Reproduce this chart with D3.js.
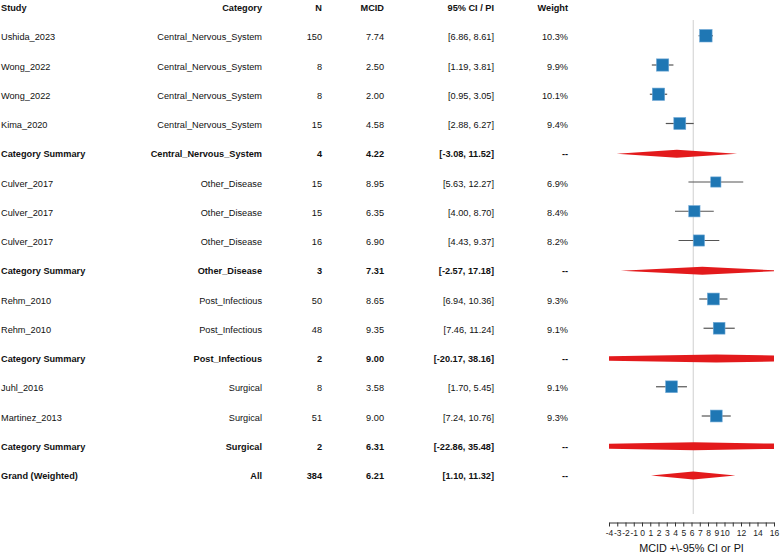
<!DOCTYPE html>
<html>
<head>
<meta charset="utf-8">
<script src="https://cdn.jsdelivr.net/npm/d3@7"></script>
<style>
  body { margin: 0; background: #fff; }
  svg { font-family: "Liberation Sans", Arial, sans-serif; }
  .axis path, .axis line { stroke: #333; }
  .axis text { font-size: 8.5px; fill: #222; }
</style>
</head>
<body>
<svg id="chart" width="782" height="556"></svg>
<script>
// rows of the forest table, top to bottom
var study = ['Ushida_2023', 'Wong_2022', 'Wong_2022', 'Kima_2020', 'Category Summary',
  'Culver_2017', 'Culver_2017', 'Culver_2017', 'Category Summary',
  'Rehm_2010', 'Rehm_2010', 'Category Summary',
  'Juhl_2016', 'Martinez_2013', 'Category Summary', 'Grand (Weighted)'];
var category = ['Central_Nervous_System', 'Central_Nervous_System', 'Central_Nervous_System', 'Central_Nervous_System', 'Central_Nervous_System',
  'Other_Disease', 'Other_Disease', 'Other_Disease', 'Other_Disease',
  'Post_Infectious', 'Post_Infectious', 'Post_Infectious',
  'Surgical', 'Surgical', 'Surgical', 'All'];
var nVals = [150, 8, 8, 15, 4, 15, 15, 16, 3, 50, 48, 2, 8, 51, 2, 384];
var mcid = [7.74, 2.50, 2.00, 4.58, 4.22, 8.95, 6.35, 6.90, 7.31, 8.65, 9.35, 9.00, 3.58, 9.00, 6.31, 6.21];
var lower = [6.86, 1.19, 0.95, 2.88, -3.08, 5.63, 4.00, 4.43, -2.57, 6.94, 7.46, -20.17, 1.70, 7.24, -22.86, 1.10];
var upper = [8.61, 3.81, 3.05, 6.27, 11.52, 12.27, 8.70, 9.37, 17.18, 10.36, 11.24, 38.16, 5.45, 10.76, 35.48, 11.32];
var weight = [10.3, 9.9, 10.1, 9.4, null, 6.9, 8.4, 8.2, null, 9.3, 9.1, null, 9.1, 9.3, null, null];
var isSummary = [0, 0, 0, 0, 1, 0, 0, 0, 1, 0, 0, 1, 0, 0, 1, 1];

var headers = ['Study', 'Category', 'N', 'MCID', '95% CI / PI', 'Weight'];
var tickLabels = [-4, -3, -2, -1, 0, 1, 2, 3, 4, 5, 6, 7, 8, 9, 10, 12, 14, 16];
var grandMean = 6.21;

var rows = study.map(function (s, i) {
  return {
    i: i, study: s, category: category[i], n: nVals[i], mcid: mcid[i],
    lo: lower[i], hi: upper[i], weight: weight[i], summary: isSummary[i] === 1
  };
});

var svg = d3.select('#chart');

var y = d3.scaleLinear().domain([-1, rows.length - 1]).range([8, 476]);
var x = d3.scaleLinear().domain([-4, 16]).range([609, 774]);
var sq = d3.scaleSqrt().domain([0, 10.3]).range([0, 12.5]);

// column anchors: [x, anchor]
var cols = [[1, 'start'], [262, 'end'], [322, 'end'], [384, 'end'], [494, 'end'], [568, 'end']];

function cells(r) {
  return [r.study, r.category, String(r.n), r.mcid.toFixed(2),
    '[' + r.lo.toFixed(2) + ', ' + r.hi.toFixed(2) + ']',
    r.weight == null ? '--' : r.weight.toFixed(1) + '%'];
}

// header
svg.append('g').selectAll('text')
  .data(headers)
  .enter().append('text')
  .attr('x', (d, j) => cols[j][0])
  .attr('y', y(-1))
  .attr('dy', '0.35em')
  .attr('text-anchor', (d, j) => cols[j][1])
  .attr('font-size', 9.2)
  .attr('font-weight', 'bold')
  .attr('fill', '#111')
  .text(d => d);

// table body
var rowG = svg.append('g').selectAll('g')
  .data(rows)
  .enter().append('g');

rowG.selectAll('text')
  .data(r => cells(r).map(c => ({ text: c, bold: r.summary, y: y(r.i) })))
  .enter().append('text')
  .attr('x', (d, j) => cols[j][0])
  .attr('y', d => d.y)
  .attr('dy', '0.35em')
  .attr('text-anchor', (d, j) => cols[j][1])
  .attr('font-size', 9.2)
  .attr('font-weight', d => d.bold ? 'bold' : 'normal')
  .attr('fill', '#111')
  .text(d => d.text);

// plot
svg.append('clipPath').attr('id', 'plotclip')
  .append('rect')
  .attr('x', x(-4)).attr('y', 0)
  .attr('width', x(16) - x(-4)).attr('height', 520);

svg.append('line')
  .attr('x1', x(grandMean)).attr('x2', x(grandMean))
  .attr('y1', 20).attr('y2', 514)
  .attr('stroke', '#cfcfcf')
  .attr('stroke-width', 1);

var plot = svg.append('g').attr('clip-path', 'url(#plotclip)');

var studies = rows.filter(r => !r.summary);
var sums = rows.filter(r => r.summary);

plot.selectAll('.ci')
  .data(studies)
  .enter().append('line')
  .attr('class', 'ci')
  .attr('x1', d => x(d.lo)).attr('x2', d => x(d.hi))
  .attr('y1', d => y(d.i) - 1.5).attr('y2', d => y(d.i) - 1.5)
  .attr('stroke', '#555')
  .attr('stroke-width', 1.2);

plot.selectAll('.box')
  .data(studies)
  .enter().append('rect')
  .attr('class', 'box')
  .attr('x', d => x(d.mcid) - sq(d.weight) / 2)
  .attr('y', d => y(d.i) - 1.5 - sq(d.weight) / 2)
  .attr('width', d => sq(d.weight))
  .attr('height', d => sq(d.weight))
  .attr('fill', '#1f77b4')
  .attr('stroke', '#6fa8d6')
  .attr('stroke-width', 0.6);

plot.selectAll('.diamond')
  .data(sums)
  .enter().append('path')
  .attr('class', 'diamond')
  .attr('d', d => {
    var cy = y(d.i) - 0.5;
    return 'M' + x(d.lo) + ',' + cy + 'L' + x(d.mcid) + ',' + (cy - 4) +
      'L' + x(d.hi) + ',' + cy + 'L' + x(d.mcid) + ',' + (cy + 4) + 'Z';
  })
  .attr('fill', '#e31a1c');

// axis
svg.append('g')
  .attr('class', 'axis')
  .attr('transform', 'translate(0,522.5)')
  .call(d3.axisBottom(x)
    .tickValues(d3.range(-4, 17))
    .tickSize(4)
    .tickSizeOuter(0)
    .tickFormat(d => tickLabels.indexOf(d) >= 0 ? String(d) : ''))
  .call(g => g.select('.domain').attr('stroke', '#333'))
  .call(g => g.selectAll('.tick text').attr('dy', '0.75em').attr('y', 7));

svg.append('text')
  .attr('x', d3.mean(x.range()))
  .attr('y', 552)
  .attr('text-anchor', 'middle')
  .attr('font-size', 10.8)
  .attr('fill', '#111')
  .text('MCID +\\-95% CI or PI');
</script>
</body>
</html>
